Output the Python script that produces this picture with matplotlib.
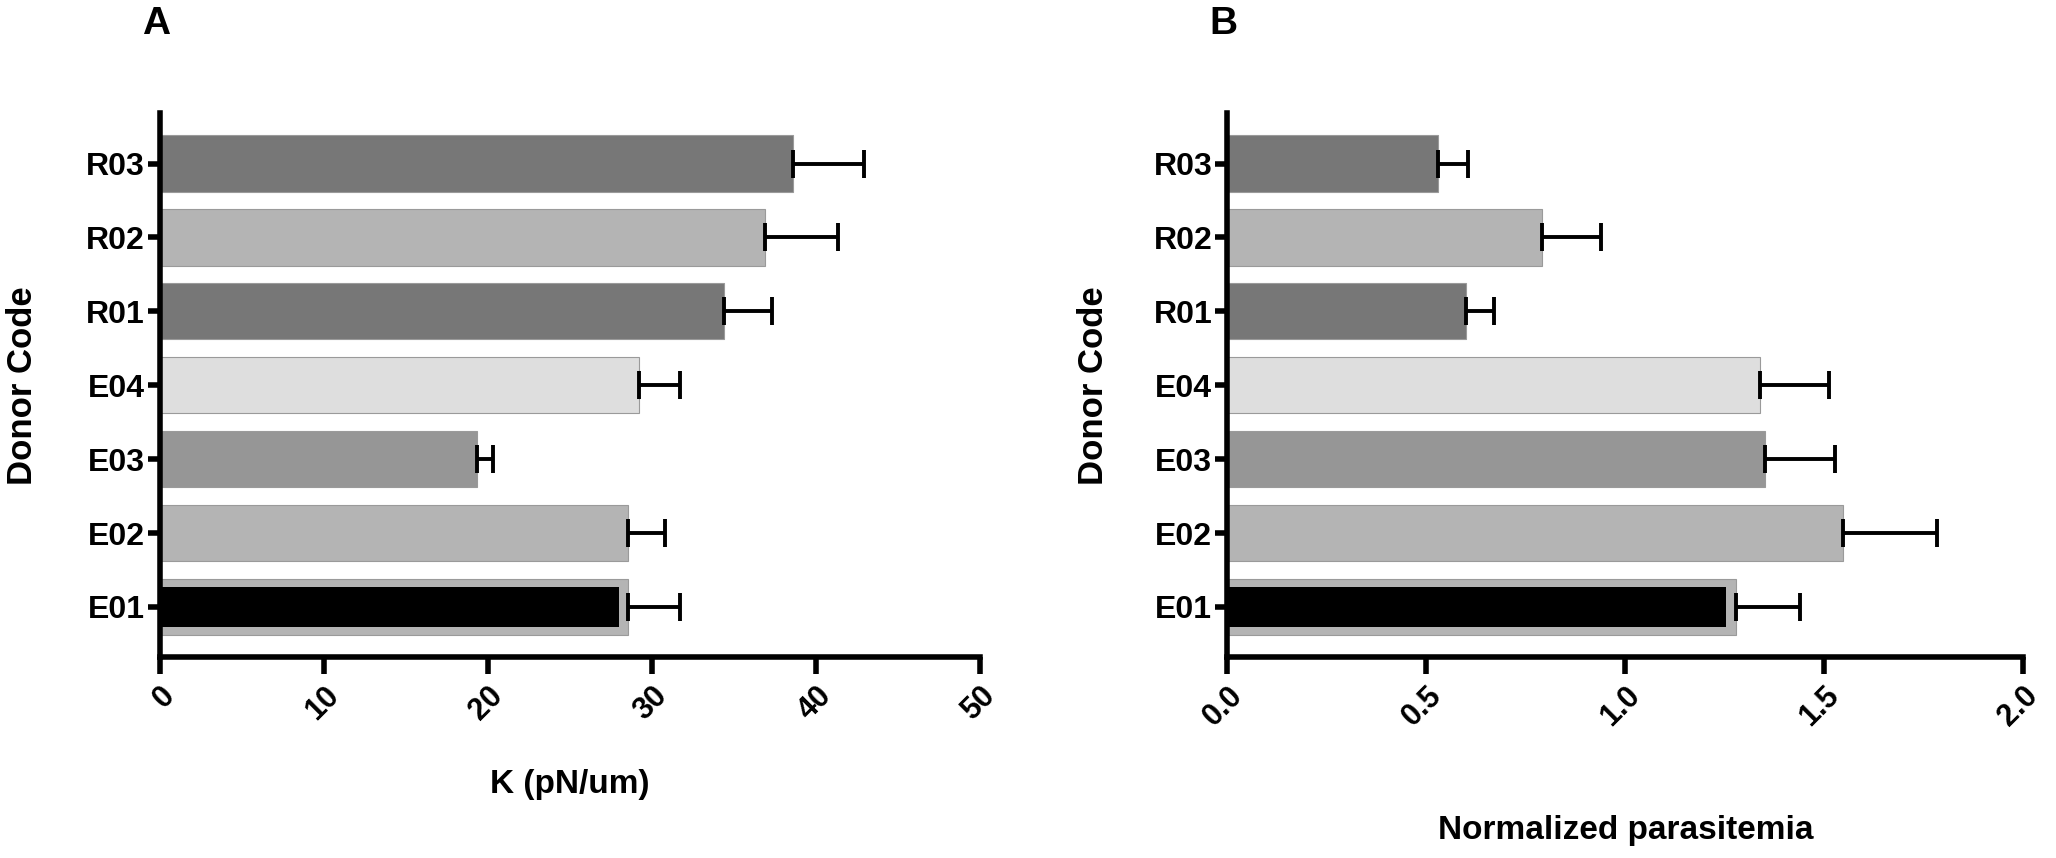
import numpy as np
import matplotlib
matplotlib.use('Agg')
import matplotlib.pyplot as plt

plt.rcParams['font.family'] = ['Liberation Sans', 'DejaVu Sans']
plt.rcParams['font.weight'] = 'bold'

donors = ['E01', 'E02', 'E03', 'E04', 'R01', 'R02', 'R03']
bar_colors = ['#b4b4b4', '#b4b4b4', '#969696', '#dedede', '#777777', '#b4b4b4', '#777777']

# panel A: stiffness
k_mean = [28.5, 28.5, 19.3, 29.2, 34.4, 36.9, 38.6]
k_err = [3.2, 2.3, 1.0, 2.5, 2.9, 4.4, 4.3]
k_e01_inner = 28.0

# panel B: normalized parasitemia
para_mean = [1.278, 1.547, 1.352, 1.338, 0.60, 0.79, 0.53]
para_err = [0.16, 0.237, 0.175, 0.175, 0.07, 0.15, 0.074]
para_e01_inner = 1.254

fig = plt.figure(figsize=(20.56, 8.58), dpi=100)
axA = fig.add_axes([0.0778, 0.234, 0.399, 0.634])
axB = fig.add_axes([0.597, 0.234, 0.387, 0.634])

def draw_panel(ax, means, errs, inner, xmax, xticks, xticklabels, xlabel, label_y, letter):
    y = np.arange(len(donors))
    ax.barh(y, means, height=0.76, color=bar_colors, edgecolor='#9a9a9a', linewidth=0.8, zorder=2)
    ax.barh(y[0], inner, height=0.53, color='black', zorder=3)
    ax.errorbar(means, y, xerr=[np.zeros(len(errs)), errs], fmt='none', ecolor='black',
                elinewidth=2.8, capsize=10, capthick=2.8, zorder=4)
    ax.set_xlim(0, xmax)
    ax.set_ylim(-0.68, 6.68)
    ax.set_yticks(y)
    ax.set_yticklabels(donors, fontsize=23)
    ax.set_xticks(xticks)
    ax.set_xticklabels(xticklabels, fontsize=22, rotation=45, ha='right', va='top',
                       rotation_mode='anchor')
    for s in ['top', 'right']:
        ax.spines[s].set_visible(False)
    for s in ['left', 'bottom']:
        ax.spines[s].set_linewidth(4)
    ax.tick_params(axis='x', length=12, width=4, pad=5)
    ax.tick_params(axis='y', length=9, width=4, pad=2)
    ax.set_xlabel(xlabel, fontsize=24, fontweight='bold')
    ax.xaxis.set_label_coords(0.5, label_y)
    ax.set_ylabel('Donor Code', fontsize=25, fontweight='bold')
    ax.yaxis.set_label_coords(-0.148, 0.5)
    ax.text(-0.005, 1.165, letter, transform=ax.transAxes, fontsize=28, fontweight='bold',
            ha='center', va='center')

draw_panel(axA, k_mean, k_err, k_e01_inner, 50, [0, 10, 20, 30, 40, 50],
           ['0', '10', '20', '30', '40', '50'], 'K (pN/um)', -0.205, 'A')
draw_panel(axB, para_mean, para_err, para_e01_inner, 2.0, [0, 0.5, 1.0, 1.5, 2.0],
           ['0.0', '0.5', '1.0', '1.5', '2.0'], 'Normalized parasitemia', -0.29, 'B')

fig.savefig('out.png', dpi=100)
